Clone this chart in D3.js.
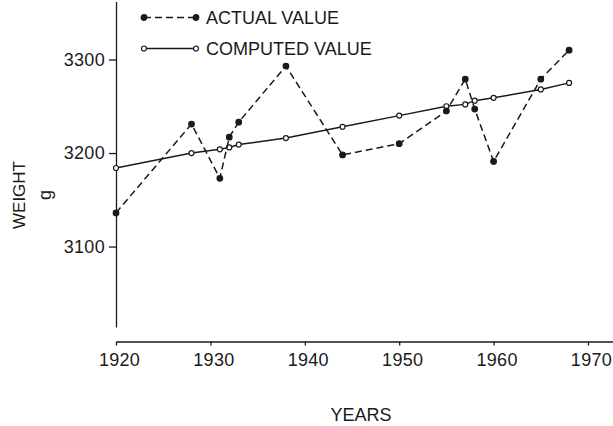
<!DOCTYPE html>
<html>
<head>
<meta charset="utf-8">
<script src="https://cdn.jsdelivr.net/npm/d3@7"></script>
<style>
  body { margin: 0; background: #fff; }
  text { font-family: "Liberation Sans", Arial, sans-serif; fill: #1a1a1a; }
</style>
</head>
<body>
<div id="app"></div>
<script>
const WIDTH = 613
const HEIGHT = 426

// data
const years = [1920, 1928, 1931, 1932, 1933, 1938, 1944, 1950, 1955, 1957, 1958, 1960, 1965, 1968]
const actual = [3136, 3231, 3173, 3217, 3233, 3293, 3198, 3210, 3245, 3279, 3247, 3191, 3279, 3310]
const computed = [3184, 3200, 3204, 3206, 3209, 3216, 3228, 3240, 3250, 3252, 3256, 3259, 3268, 3275]
const xTicks = [1920, 1930, 1940, 1950, 1960, 1970]
const yTicks = [3100, 3200, 3300]
const legendItems = ['ACTUAL VALUE', 'COMPUTED VALUE']

const ink = '#1a1a1a'

const x = d3.scaleLinear().domain([1920, 1972.65]).range([116, 613])
const y = d3.scaleLinear().domain([3014, 3362]).range([327, 1.5])

const svg = d3.select('#app').append('svg')
  .attr('width', WIDTH)
  .attr('height', HEIGHT)
  .style('background-color', '#fff')

// axes
const xAxis = svg.append('g')
  .attr('transform', 'translate(0, 341.5)')
  .call(d3.axisBottom(x).tickValues(xTicks).tickFormat(d3.format('d')).tickSizeInner(4).tickSizeOuter(0).tickPadding(8))
xAxis.select('.domain').attr('stroke', ink).attr('stroke-width', 1.3)
xAxis.selectAll('line').attr('stroke', ink).attr('stroke-width', 1.3)
xAxis.selectAll('text')
  .style('font-size', '18px')
  .style('letter-spacing', '0.3px')
  .attr('fill', ink)
  .attr('dx', 3)

const yAxis = svg.append('g')
  .attr('transform', 'translate(116, 0)')
  .call(d3.axisLeft(y).tickValues(yTicks).tickFormat(d3.format('d')).tickSizeInner(7).tickSizeOuter(0).tickPadding(4))
yAxis.select('.domain').attr('stroke', ink).attr('stroke-width', 1.3)
yAxis.selectAll('line').attr('stroke', ink).attr('stroke-width', 1.3)
yAxis.selectAll('text')
  .style('font-size', '18px')
  .style('letter-spacing', '0.3px')
  .attr('fill', ink)

// axis titles
svg.append('text')
  .attr('transform', 'translate(25, 195) rotate(-90)')
  .attr('text-anchor', 'middle')
  .style('font-size', '17px')
  .text('WEIGHT')
svg.append('text')
  .attr('transform', 'translate(51, 195) rotate(-90)')
  .attr('text-anchor', 'middle')
  .style('font-size', '18px')
  .text('g')
svg.append('text')
  .attr('x', 361)
  .attr('y', 421)
  .attr('text-anchor', 'middle')
  .style('font-size', '18px')
  .text('YEARS')

// lines
const series = [
  { values: computed, dash: null, filled: false },
  { values: actual, dash: '7,4', filled: true }
]

const line = d3.line()
  .x(d => x(d[0]))
  .y(d => y(d[1]))

series.forEach(s => {
  const pts = years.map((yr, i) => [yr, s.values[i]])
  svg.append('path')
    .datum(pts)
    .attr('d', line)
    .attr('fill', 'none')
    .attr('stroke', ink)
    .attr('stroke-width', 1.5)
    .attr('stroke-dasharray', s.dash)

  svg.append('g').selectAll('circle')
    .data(pts)
    .enter()
  .append('circle')
    .attr('cx', d => x(d[0]))
    .attr('cy', d => y(d[1]))
    .attr('r', s.filled ? 2.8 : 2.5)
    .attr('fill', s.filled ? ink : '#fff')
    .attr('stroke', ink)
    .attr('stroke-width', 1.2)
})

// legend
const legend = svg.append('g').selectAll('g')
  .data(legendItems)
  .enter()
.append('g')
  .attr('transform', (d, i) => `translate(0, ${17.5 + i * 31})`)

legend.append('line')
  .attr('x1', 144)
  .attr('x2', 196)
  .attr('stroke', ink)
  .attr('stroke-width', 1.5)
  .attr('stroke-dasharray', (d, i) => i === 0 ? '7,4' : null)

legend.each(function(d, i) {
  d3.select(this).selectAll('circle')
    .data([144, 196])
    .enter()
  .append('circle')
    .attr('cx', v => v)
    .attr('r', i === 0 ? 2.8 : 2.5)
    .attr('fill', i === 0 ? ink : '#fff')
    .attr('stroke', ink)
    .attr('stroke-width', 1.2)
})

legend.append('text')
  .attr('x', 206)
  .attr('y', 6.5)
  .style('font-size', '18px')
  .text(d => d)
</script>
</body>
</html>
